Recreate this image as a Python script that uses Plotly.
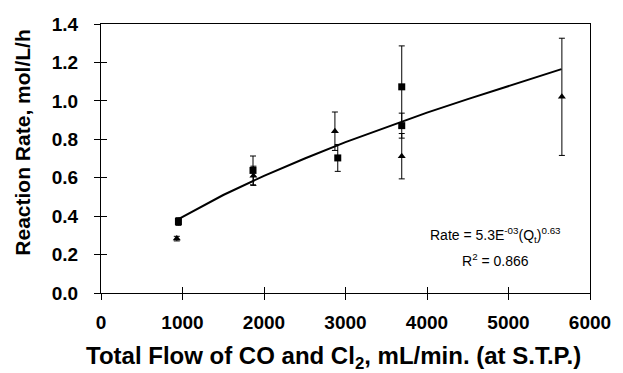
import plotly.graph_objects as go

# Squares series
sq_x = [950, 1865, 2905, 3690, 3690]
sq_y = [0.372, 0.638, 0.703, 1.073, 0.871]
sq_err = [0.02, 0.075, 0.07, 0.213, 0.065]

# Triangles series
tr_x = [930, 1870, 2870, 3690, 5655]
tr_y = [0.283, 0.610, 0.842, 0.712, 1.021]
tr_err = [0.012, 0.05, 0.10, 0.118, 0.305]

# Fitted power-law curve
fit_x = [950, 1500, 2000, 2500, 3000, 3500, 4000, 4500, 5000, 5650]
fit_y = [0.385, 0.51, 0.61, 0.70, 0.785, 0.864, 0.939, 1.009, 1.078, 1.165]

x_ticks = [0, 1000, 2000, 3000, 4000, 5000, 6000]
y_ticks = [0.0, 0.2, 0.4, 0.6, 0.8, 1.0, 1.2, 1.4]

x_title = "<b>Total Flow of CO and Cl<sub>2</sub>, mL/min. (at S.T.P.)</b>"
y_title = "<b>Reaction Rate, mol/L/h</b>"

fig = go.Figure()
fig.add_trace(go.Scatter(x=fit_x, y=fit_y, mode="lines",
                         line=dict(color="black", width=2), showlegend=False))
fig.add_trace(go.Scatter(x=sq_x, y=sq_y, mode="markers",
                         marker=dict(symbol="square", size=7, color="black"),
                         error_y=dict(type="data", array=sq_err, color="black", thickness=1, width=3),
                         showlegend=False))
fig.add_trace(go.Scatter(x=tr_x, y=tr_y, mode="markers",
                         marker=dict(symbol="triangle-up", size=7, color="black"),
                         error_y=dict(type="data", array=tr_err, color="black", thickness=1, width=3),
                         showlegend=False))
# dummy trace for overlay axes
fig.add_trace(go.Scatter(x=[None], y=[None], xaxis="x2", yaxis="y2", showlegend=False))

fam = "Liberation Sans, Arial"
tickfont = dict(family=fam, size=19, color="black")

fig.update_layout(
    width=623, height=373,
    margin=dict(l=101, r=26, t=24, b=80),
    paper_bgcolor="white", plot_bgcolor="white",
    xaxis=dict(range=[0, 6000], tickvals=x_ticks, ticktext=[f"<b>{v}</b>" for v in x_ticks],
               ticks="outside", ticklen=6, tickwidth=1.3, tickcolor="black",
               ticklabelstandoff=6,
               showline=True, linecolor="black", linewidth=1.3, mirror=True,
               showgrid=False, zeroline=False, tickfont=tickfont),
    yaxis=dict(range=[0, 1.4], tickvals=y_ticks, ticktext=[f"<b>{v:.1f}</b>" for v in y_ticks],
               ticks="outside", ticklen=6, tickwidth=1.3, tickcolor="black",
               ticklabelstandoff=12,
               showline=True, linecolor="black", linewidth=1.3, mirror=True,
               showgrid=False, zeroline=False, tickfont=tickfont),
    xaxis2=dict(range=[0, 6000], tickvals=x_ticks, overlaying="x", showticklabels=False,
                ticks="inside", ticklen=6, tickwidth=1.3, tickcolor="black",
                showgrid=False, zeroline=False, showline=False),
    yaxis2=dict(range=[0, 1.4], tickvals=y_ticks, overlaying="y", showticklabels=False,
                ticks="inside", ticklen=6, tickwidth=1.3, tickcolor="black",
                showgrid=False, zeroline=False, showline=False),
    annotations=[
        dict(x=4840, y=0.30, xref="x", yref="y", showarrow=False,
             text="Rate = 5.3E<sup>-03</sup>(Q<sub>t</sub>)<sup>0.63</sup>",
             font=dict(family=fam, size=14, color="black")),
        dict(x=4840, y=0.172, xref="x", yref="y", showarrow=False,
             text="R<sup>2</sup> = 0.866",
             font=dict(family=fam, size=14, color="black")),
        dict(x=0.476, y=-0.238, xref="paper", yref="paper", showarrow=False,
             xanchor="center", yanchor="middle", text=x_title,
             font=dict(family=fam, size=24, color="black")),
        dict(x=-0.160, y=0.558, xref="paper", yref="paper", showarrow=False,
             xanchor="center", yanchor="middle", textangle=-90, text=y_title,
             font=dict(family=fam, size=21, color="black")),
    ],
)

fig.write_html("out.html")
